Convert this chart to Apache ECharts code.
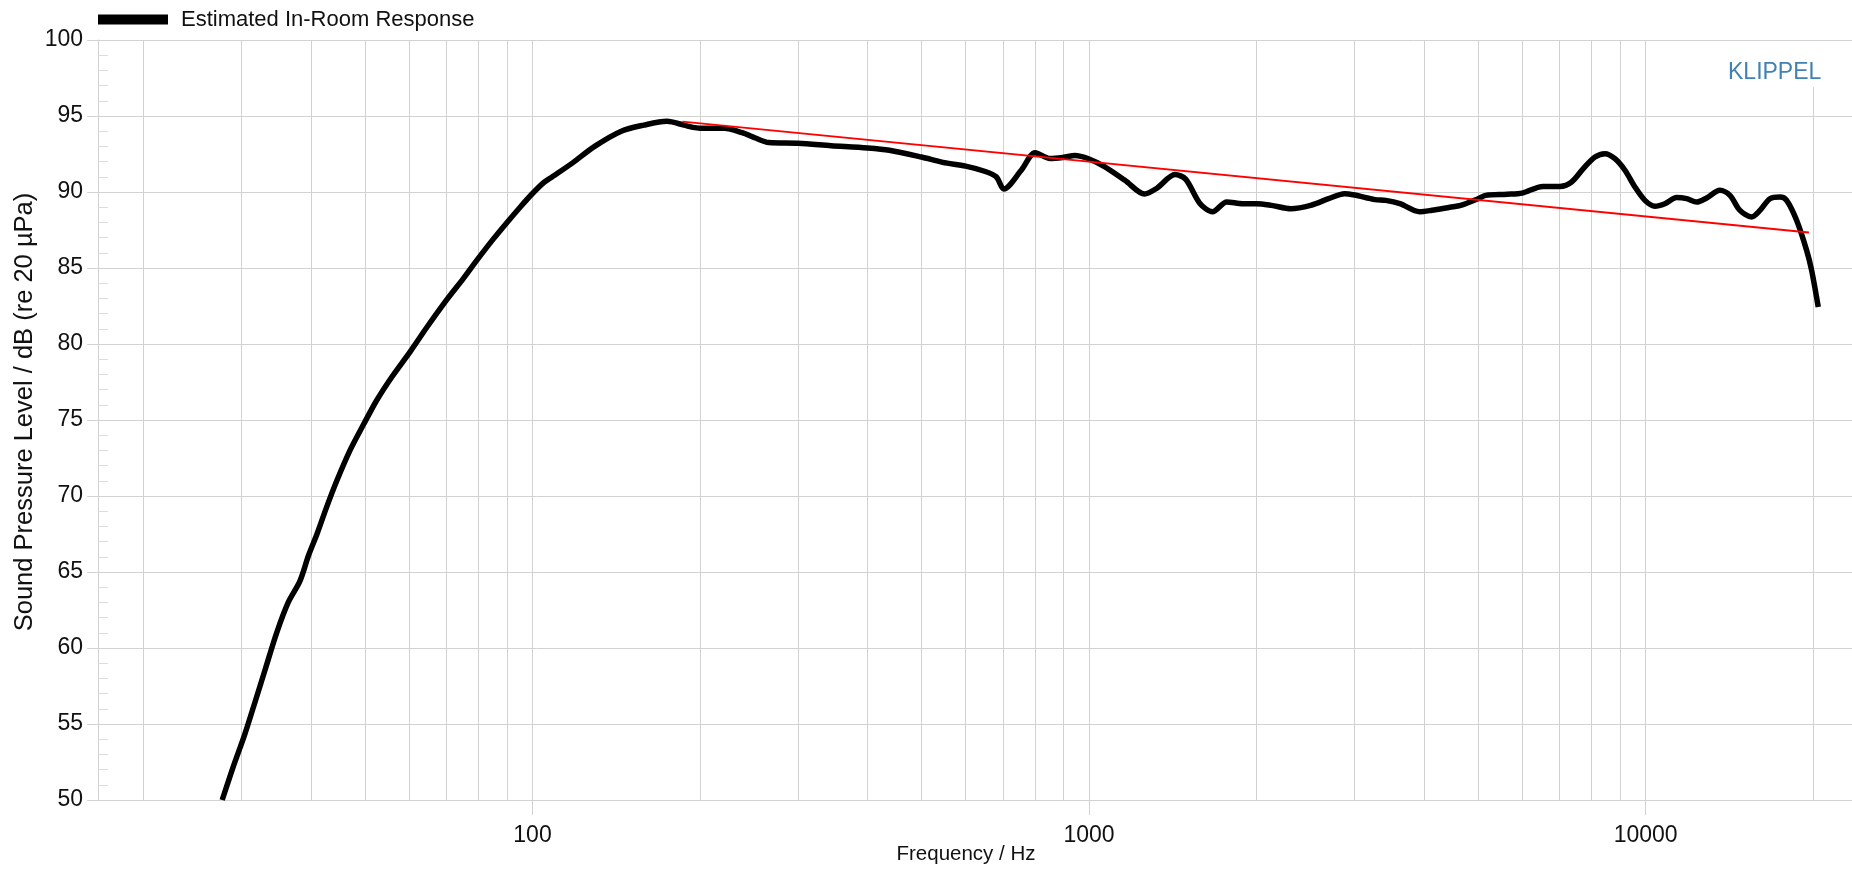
<!DOCTYPE html>
<html>
<head>
<meta charset="utf-8">
<title>Estimated In-Room Response</title>
<script src="https://cdn.jsdelivr.net/npm/echarts@6/dist/echarts.min.js"></script>
<style>
    html, body { margin: 0; padding: 0; background: #fff; }
    #chart { width: 1852px; height: 872px; }
</style>
</head>
<body>
<div id="chart"></div>
<script>
var freqHz = [27.7, 29.0, 30.4, 31.7, 33.1, 34.7, 36.4, 38.2, 39.6, 41.0, 42.7, 44.5, 47.0, 49.7,
    52.5, 55.8, 60.3, 64.6, 70.1, 75.1, 79.4, 85, 90, 95, 100, 104.6, 107.5, 117.9, 129.3, 144.4,
    158.5, 174.4, 187.2, 194.2, 200, 221, 238, 251.5, 265.8, 300, 344, 400, 437.5, 500, 546, 600,
    651, 681, 703, 756, 800, 851, 900, 943, 1000, 1062, 1160, 1258, 1324, 1427, 1491, 1582, 1666,
    1768, 1889, 2000, 2126, 2305, 2501, 2694, 2877, 3000, 3264, 3411, 3619, 3925, 4131, 4450, 4653,
    5000, 5160, 5635, 6000, 6536, 7015, 7362, 7726, 8109, 8452, 8808, 9180, 9568, 9971, 10392,
    10831, 11368, 11848, 12350, 12871, 13600, 14174, 14773, 15505, 16049, 16725, 17433, 17919,
    18675, 19466, 19871, 20425];
var splDb = [50.0, 52.2, 54.3, 56.4, 58.6, 61.0, 63.0, 64.4, 66.1, 67.5, 69.3, 71.0, 73.0, 74.7,
    76.3, 77.8, 79.5, 81.1, 82.9, 84.3, 85.5, 86.9, 88.0, 89.0, 89.9, 90.6, 90.9, 91.9, 93.0, 94.0,
    94.4, 94.65, 94.4, 94.25, 94.2, 94.2, 93.9, 93.55, 93.25, 93.2, 93.05, 92.9, 92.75, 92.3, 91.95, 91.7,
    91.35, 91.0, 90.2, 91.45, 92.58, 92.2, 92.28, 92.4, 92.17, 91.7, 90.77, 89.87, 90.25, 91.15, 90.85, 89.25, 88.7,
    89.35, 89.23, 89.23, 89.12, 88.9, 89.12, 89.56, 89.89, 89.8, 89.5, 89.45, 89.23, 88.7, 88.8, 89.0, 89.12,
    89.56, 89.78, 89.85, 89.93, 90.37, 90.37, 90.66, 91.54, 92.3, 92.52, 92.19, 91.43, 90.33, 89.45, 89.06,
    89.23, 89.63, 89.56, 89.34, 89.61, 90.11, 89.78, 88.79, 88.36, 88.79, 89.56, 89.67, 89.45,
    88.14, 86.16, 84.85, 82.43];

// straight trend line
var trendHz = [186, 19650];
var trendDb = [94.63, 87.33];

// grid lines between the decades
var minorGridHz = [20, 30, 40, 50, 60, 70, 80, 90, 200, 300, 400, 500, 600, 700, 800, 900,
    2000, 3000, 4000, 5000, 6000, 7000, 8000, 9000, 20000];

var xMin = 16.57, xMax = 23485;
var yMin = 50, yMax = 100, yStep = 5;

var FONT = '"Liberation Sans", Arial, sans-serif';
var GRID_COLOR = '#d2d2d2';

function pairs(xs, ys) {
    var out = [];
    for (var i = 0; i < xs.length; i++) out.push([xs[i], ys[i]]);
    return out;
}

var chart = echarts.init(document.getElementById('chart'), null, { renderer: 'canvas' });

var option = {
    animation: false,
    backgroundColor: '#fff',
    textStyle: { fontFamily: FONT },
    grid: { left: 98, right: 0, top: 40, bottom: 72, outerBoundsMode: 'none' },
    legend: {
        data: ['Estimated In-Room Response'],
        left: 98,
        top: 8.5,
        padding: 0,
        icon: 'rect',
        itemWidth: 70,
        itemHeight: 10,
        textStyle: { fontSize: 22, color: '#111', fontFamily: FONT, padding: [0, 0, 0, 8] }
    },
    xAxis: {
        type: 'log',
        logBase: 10,
        min: xMin,
        max: xMax,
        name: 'Frequency / Hz',
        nameLocation: 'middle',
        nameGap: 44,
        nameMoveOverlap: false,
        nameTextStyle: { fontSize: 20.5, color: '#111', fontFamily: FONT, padding: [0, 18, 0, 0] },
        axisLine: { show: true, lineStyle: { color: GRID_COLOR, width: 1 } },
        axisTick: { show: true, length: 15, lineStyle: { color: GRID_COLOR } },
        axisLabel: {
            fontSize: 23, color: '#111', fontFamily: FONT, margin: 24,
            showMinLabel: false, showMaxLabel: false,
            formatter: function (v) {
                var l = Math.log(v) / Math.LN10;
                return Math.abs(l - Math.round(l)) < 1e-6 ? String(Math.round(v)) : '';
            }
        },
        splitLine: { show: true, lineStyle: { color: GRID_COLOR, width: 1 } }
    },
    yAxis: {
        type: 'value',
        min: yMin,
        max: yMax,
        interval: yStep,
        name: 'Sound Pressure Level / dB (re 20 \u00b5Pa)',
        nameLocation: 'middle',
        nameGap: 60,
        nameMoveOverlap: false,
        nameTextStyle: { fontSize: 25.5, color: '#111', fontFamily: FONT, padding: [0, 0, 0, 16] },
        axisLine: { show: true, lineStyle: { color: GRID_COLOR, width: 1 } },
        axisTick: { show: true, length: 11, lineStyle: { color: GRID_COLOR } },
        minorTick: { show: true, splitNumber: 5, length: -10, lineStyle: { color: '#dcdcdc' } },
        axisLabel: { fontSize: 23, color: '#111', fontFamily: FONT, margin: 15 },
        splitLine: { show: true, lineStyle: { color: GRID_COLOR, width: 1 } }
    },
    graphic: [
        { type: 'rect', z: 50, shape: { x: 1716, y: 41, width: 114, height: 46 }, style: { fill: '#fff' } },
        {
            type: 'text', z: 51, left: 1728, top: 61.5,
            style: { text: 'KLIPPEL', fill: '#4282b2', font: '23px ' + FONT }
        }
    ],
    series: [
        {
            // minor log grid
            type: 'line',
            data: [],
            z: 1,
            silent: true,
            markLine: {
                silent: true,
                symbol: 'none',
                label: { show: false },
                lineStyle: { type: 'solid', color: GRID_COLOR, width: 1 },
                emphasis: { disabled: true },
                data: minorGridHz.map(function (f) { return { xAxis: f }; })
            }
        },
        {
            name: 'Estimated In-Room Response',
            type: 'line',
            z: 5,
            data: pairs(freqHz, splDb),
            showSymbol: false,
            smooth: 0.3,
            clip: true,
            itemStyle: { color: '#000' },
            lineStyle: { color: '#000', width: 5.5, join: 'round', cap: 'butt' }
        },
        {
            name: 'trend',
            type: 'line',
            z: 6,
            data: pairs(trendHz, trendDb),
            showSymbol: false,
            itemStyle: { color: '#ff0000' },
            lineStyle: { color: '#ff0000', width: 2 }
        }
    ]
};

chart.setOption(option);
</script>
</body>
</html>
